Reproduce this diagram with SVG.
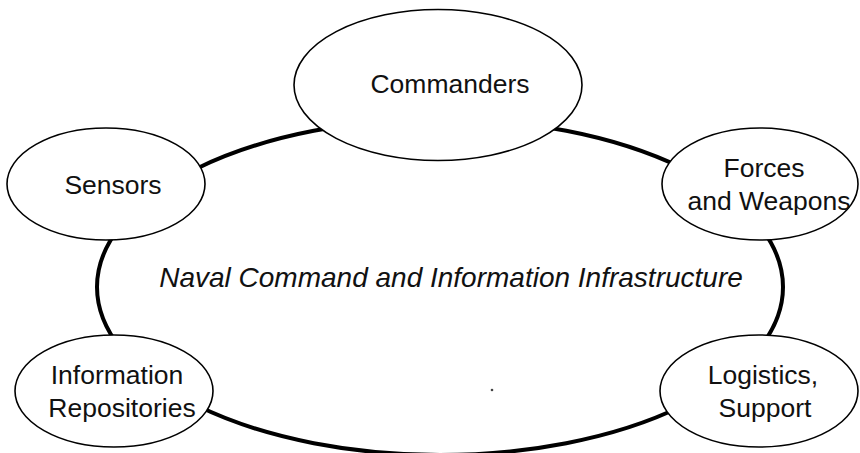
<svg xmlns="http://www.w3.org/2000/svg" width="860" height="453" viewBox="0 0 860 453">
<style>
.ring{fill:none;stroke:#000;stroke-width:4}
.node{fill:#fff;stroke:#000;stroke-width:1.6}
.lbl{font-family:"Liberation Sans",Arial,Helvetica,sans-serif;font-size:26.5px;fill:#111;text-anchor:middle}
.title{font-family:"Liberation Sans",Arial,Helvetica,sans-serif;font-size:28px;font-style:italic;fill:#111;text-anchor:middle}
</style>
<rect width="860" height="453" fill="#fff"/>
<g id="infrastructure">
<ellipse class="ring" cx="440" cy="287" rx="343" ry="168"/>
<text class="title" x="451" y="287">Naval Command and Information Infrastructure</text>
<circle cx="492" cy="390" r="1.3" fill="#444"/>
</g>
<g id="commanders">
<ellipse class="node" cx="438" cy="85" rx="144" ry="75.5"/>
<text class="lbl" x="450" y="93">Commanders</text>
</g>
<g id="sensors">
<ellipse class="node" cx="106" cy="184" rx="99" ry="56"/>
<text class="lbl" x="113" y="194">Sensors</text>
</g>
<g id="forces">
<ellipse class="node" cx="760" cy="184" rx="98" ry="56"/>
<text class="lbl" x="764" y="177">Forces</text>
<text class="lbl" x="769" y="210">and Weapons</text>
</g>
<g id="repositories">
<ellipse class="node" cx="114" cy="391" rx="99" ry="56"/>
<text class="lbl" x="117" y="384">Information</text>
<text class="lbl" x="122" y="417">Repositories</text>
</g>
<g id="logistics">
<ellipse class="node" cx="759" cy="391" rx="99" ry="56"/>
<text class="lbl" x="763" y="384">Logistics,</text>
<text class="lbl" x="765" y="417">Support</text>
</g>
<g id="connectors"></g>
</svg>
